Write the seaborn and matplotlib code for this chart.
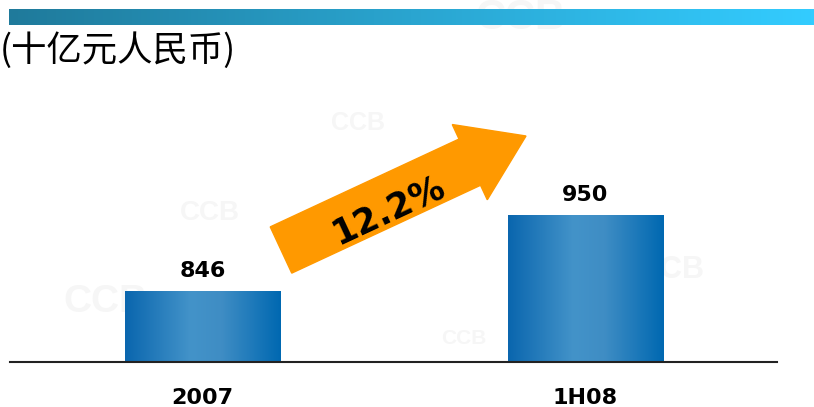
import matplotlib
matplotlib.use("Agg")
import matplotlib.pyplot as plt
import seaborn as sns
import numpy as np
from matplotlib.colors import LinearSegmentedColormap
from matplotlib.patches import FancyArrow

# data
periods = ["2007", "1H08"]
values = [846, 950]
growth_label = "12.2%"
unit_title = "(十亿元人民币)"
watermark = "CCB"

sns.set_style("white")
plt.rcParams['font.family'] = ['DejaVu Sans']

W, H = 814, 407
fig = plt.figure(figsize=(W / 100, H / 100), dpi=100)


def px(x, y):
    # pixel position -> inches from bottom left
    return x / 100, (H - y) / 100


# faint watermarks behind everything
for (x, y, s) in [(520, 18, 30), (358, 123, 18), (210, 213, 20),
                  (105, 302, 28), (464, 338, 15), (672, 270, 22)]:
    fig.text(*px(x, y), watermark, transform=fig.dpi_scale_trans,
             ha='center', va='center', fontsize=s, fontweight='bold',
             family='Liberation Sans', color='#f6f6f6', zorder=-5)

# top banner
band = fig.add_axes([9 / W, (H - 25) / H, 1 - 9 / W, 16 / H])
band_cmap = LinearSegmentedColormap.from_list("band", ["#1f7a9b", "#2aa5d0", "#33ccff"])
band.imshow(np.linspace(0, 1, 256)[None, :], aspect='auto', cmap=band_cmap)
band.set_axis_off()

fig.text(*px(236, 51), unit_title, transform=fig.dpi_scale_trans,
         ha='right', va='center', fontsize=25.5,
         family=['Noto Sans CJK SC', 'DejaVu Sans'], color='black')

# bars
ax = fig.add_axes([10 / W, (H - 362) / H, 767 / W, 262 / H])
ax.patch.set_alpha(0)
sns.barplot(x=periods, y=values, width=0.405, color='#2a7fbf', ax=ax)

bar_cmap = LinearSegmentedColormap.from_list(
    "bar", [(0, "#0a66ae"), (0.42, "#4393c9"), (0.62, "#3f8dc4"), (1, "#0068b1")])
grad = np.linspace(0, 1, 256)[None, :]
for p in ax.patches:
    x0, w = p.get_x(), p.get_width()
    top = p.get_height()
    p.set_facecolor('none')
    p.set_edgecolor('none')
    ax.imshow(grad, cmap=bar_cmap, aspect='auto', extent=[x0, x0 + w, 750, top],
              zorder=2)
    ax.annotate(f"{int(top)}", (x0 + w / 2, top), xytext=(0, 15),
                textcoords='offset points', ha='center', va='center',
                fontsize=16, fontweight='bold', color='black')
ax.set_xlim(-0.503, 1.5)
ax.set_ylim(750, 1108)

sns.despine(ax=ax, left=True, top=True, right=True)
ax.spines['bottom'].set_color('#222222')
ax.spines['bottom'].set_linewidth(1.5)
ax.set_yticks([])
ax.tick_params(axis='x', length=0, pad=19, labelsize=16, labelcolor='black')
for lab in ax.get_xticklabels():
    lab.set_fontweight('bold')
ax.set_xlabel("")
ax.set_ylabel("")

# growth arrow
tx, ty = px(281, 250)
hx, hy = px(526, 136)
arrow = FancyArrow(tx, ty, hx - tx, hy - ty, width=0.51, head_width=0.83,
                   head_length=0.62, length_includes_head=True,
                   color='#ff9900', transform=fig.dpi_scale_trans)
fig.add_artist(arrow)
fig.text(*px(388, 210), growth_label, transform=fig.dpi_scale_trans,
         ha='center', va='center', rotation=25, fontsize=25,
         fontweight='bold', color='black')

fig.savefig("out.png", dpi=100)
